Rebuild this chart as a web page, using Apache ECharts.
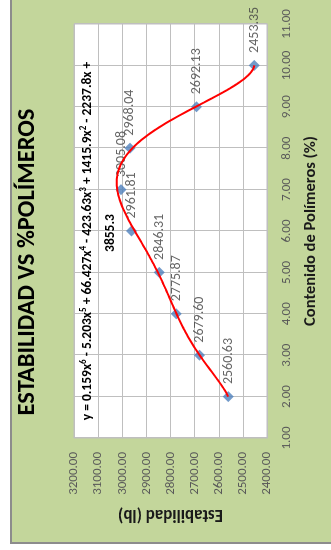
<!DOCTYPE html>
<html>
<head>
<meta charset="utf-8">
<script src="https://cdn.jsdelivr.net/npm/echarts@6/dist/echarts.min.js"></script>
<style>
  html, body { margin: 0; padding: 0; background: #ffffff; overflow: hidden; }
  body { width: 331px; height: 550px; position: relative; }
  /* the sheet is laid out landscape and turned a quarter turn counter-clockwise */
  #sheet {
    position: absolute; left: 0; top: 0;
    width: 550px; height: 331px;
    transform-origin: 0 0;
    transform: translate(0, 550px) rotate(-90deg);
    background: #ffffff;
  }
  #panel {
    position: absolute; left: 6px; top: 10px; width: 560px; height: 340px;
    background: #c3d69b;
    border-left: 2px solid #8c8c8c; border-top: 2px solid #8c8c8c;
  }
  #chart { position: absolute; left: 0; top: 0; width: 550px; height: 331px; }
</style>
</head>
<body>
<div id="sheet">
  <div id="panel"></div>
  <div id="chart"></div>
</div>
<script>
// Polymer content (%) and measured stability (lb)
const polymerContent = [2, 3, 4, 5, 6, 7, 8, 9, 10];
const stability = [2560.63, 2679.60, 2775.87, 2846.31, 2961.81, 3005.08, 2968.04, 2692.13, 2453.35];

// Axis ranges
const xRange = { min: 1, max: 11, step: 1 };
const yRange = { min: 2400, max: 3200, step: 100 };

// Texts
const chartTitle = 'ESTABILIDAD VS %POLÍMEROS';
const xAxisTitle = 'Contenido de Polímeros (%)';
const yAxisTitle = 'Estabilidad (lb)';
const equationLine1 = '{b|y = 0.159x}{s|6}{b| - 5.203x}{s|5}{b| + 66.427x}{s|4}{b| - 423.63x}{s|3}{b| + 1415.9x}{s|2}{b| - 2237.8x +}';
const equationLine2 = '3855.3';

const FONT = 'Carlito, Lato, sans-serif';

// 6th order least-squares polynomial trendline through the measured series
function polyFit(xs, ys, deg) {
  const n = deg + 1;
  const c = 6, s = 4; // centre and scale for numerical conditioning
  const A = Array.from({ length: n }, () => new Array(n).fill(0));
  const b = new Array(n).fill(0);
  xs.forEach((x, k) => {
    const t = (x - c) / s;
    const p = [];
    for (let i = 0; i < n; i++) p.push(Math.pow(t, i));
    for (let i = 0; i < n; i++) {
      b[i] += p[i] * ys[k];
      for (let j = 0; j < n; j++) A[i][j] += p[i] * p[j];
    }
  });
  for (let col = 0; col < n; col++) {
    let piv = col;
    for (let r = col + 1; r < n; r++) if (Math.abs(A[r][col]) > Math.abs(A[piv][col])) piv = r;
    [A[col], A[piv]] = [A[piv], A[col]];
    [b[col], b[piv]] = [b[piv], b[col]];
    for (let r = col + 1; r < n; r++) {
      const f = A[r][col] / A[col][col];
      for (let j = col; j < n; j++) A[r][j] -= f * A[col][j];
      b[r] -= f * b[col];
    }
  }
  const coef = new Array(n).fill(0);
  for (let i = n - 1; i >= 0; i--) {
    let sum = b[i];
    for (let j = i + 1; j < n; j++) sum -= A[i][j] * coef[j];
    coef[i] = sum / A[i][i];
  }
  return x => {
    const t = (x - c) / s;
    let v = 0;
    for (let i = n - 1; i >= 0; i--) v = v * t + coef[i];
    return v;
  };
}

const trend = polyFit(polymerContent, stability, 6);
const trendPoints = [];
const x0 = polymerContent[0], x1 = polymerContent[polymerContent.length - 1];
for (let i = 0; i <= 320; i++) {
  const x = x0 + (x1 - x0) * i / 320;
  trendPoints.push([x, trend(x)]);
}

const chart = echarts.init(document.getElementById('chart'), null, { renderer: 'canvas' });

const gridColor = '#bfbfbf';

chart.setOption({
  backgroundColor: 'transparent',
  animation: false,
  textStyle: { fontFamily: FONT },
  grid: {
    left: 112, right: 24, top: 74, bottom: 64,
    show: true, backgroundColor: '#ffffff', borderColor: gridColor, borderWidth: 1
  },
  xAxis: {
    type: 'value', min: xRange.min, max: xRange.max, interval: xRange.step,
    name: xAxisTitle, nameLocation: 'middle', nameGap: 35,
    nameTextStyle: { fontFamily: FONT, fontSize: 16.5, fontWeight: 'bold', color: '#1a1a1a' },
    axisLine: { show: true, lineStyle: { color: gridColor } },
    axisTick: { show: false },
    axisLabel: { fontFamily: FONT, fontSize: 13, color: '#595959', margin: 13,
      formatter: v => v.toFixed(2) },
    splitLine: { show: true, lineStyle: { color: gridColor, width: 1 } }
  },
  yAxis: {
    type: 'value', min: yRange.min, max: yRange.max, interval: yRange.step,
    name: yAxisTitle, nameLocation: 'middle', nameGap: 66, nameRotate: 90,
    nameTextStyle: { fontFamily: FONT, fontSize: 17, fontWeight: 'bold', color: '#1a1a1a' },
    axisLine: { show: true, lineStyle: { color: gridColor } },
    axisTick: { show: false },
    axisLabel: { fontFamily: FONT, fontSize: 13, color: '#595959', margin: 14,
      formatter: v => v.toFixed(2) },
    splitLine: { show: true, lineStyle: { color: gridColor, width: 1 } }
  },
  graphic: [
    {
      type: 'text', x: 288, y: 28, z: 10,
      style: { text: chartTitle, align: 'center', verticalAlign: 'middle',
        fontFamily: FONT, fontSize: 24.5, fontWeight: 'bold', fill: '#000000' }
    },
    {
      type: 'text', x: 309, y: 88, z: 10,
      style: {
        text: equationLine1, align: 'center', verticalAlign: 'middle',
        rich: {
          b: { fontFamily: FONT, fontSize: 13.5, fontWeight: 'bold', fill: '#000000', lineHeight: 18 },
          s: { fontFamily: FONT, fontSize: 9, fontWeight: 'bold', fill: '#000000', verticalAlign: 'top', lineHeight: 18 }
        }
      }
    },
    {
      type: 'text', x: 317, y: 111, z: 10,
      style: { text: equationLine2, align: 'center', verticalAlign: 'middle',
        fontFamily: FONT, fontSize: 13.5, fontWeight: 'bold', fill: '#000000' }
    }
  ],
  series: [
    {
      name: 'Estabilidad',
      type: 'scatter',
      z: 2,
      symbol: 'diamond',
      symbolSize: 11,
      itemStyle: { color: '#4f81bd' },
      data: polymerContent.map((x, i) => [x, stability[i]]),
      label: {
        show: true, position: 'right', distance: 7,
        fontFamily: FONT, fontSize: 14, color: '#404040',
        formatter: p => p.value[1].toFixed(2)
      }
    },
    {
      name: 'Polinómica (Estabilidad)',
      type: 'line',
      z: 3,
      data: trendPoints,
      showSymbol: false,
      symbol: 'none',
      smooth: false,
      lineStyle: { color: '#ff0000', width: 2 }
    }
  ]
});
</script>
</body>
</html>
